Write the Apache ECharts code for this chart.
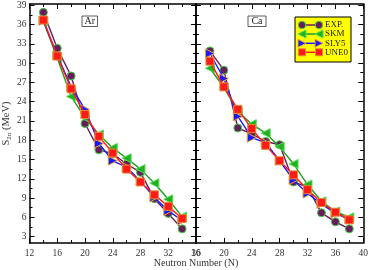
<!DOCTYPE html>
<html>
<head>
<meta charset="utf-8">
<script src="https://cdn.jsdelivr.net/npm/echarts@6/dist/echarts.min.js"></script>
<style>
html,body{margin:0;padding:0;background:#fff;}
#chart{width:371px;height:270px;}
</style>
</head>
<body>
<div id="chart"></div>
<script>
// ---- data ----
var N_Ar = [14, 16, 18, 20, 22, 24, 26, 28, 30, 32, 34];
var Ar_EXP  = [37.9, 32.3, 28.0, 20.6, 16.5, 15.9, 14.3, 13.0, 8.9, 6.6, 4.2];
var Ar_SKM  = [36.5, 30.8, 24.8, 21.5, 18.9, 16.8, 15.2, 13.5, 11.3, 8.8, 6.1];
var Ar_SLY5 = [36.6, 31.2, 26.3, 22.8, 17.5, 14.8, 13.8, 11.6, 9.1, 7.0, 5.5];
var Ar_UNE0 = [36.7, 31.1, 26.0, 22.0, 18.6, 16.0, 13.5, 11.5, 9.5, 7.7, 5.8];

var N_Ca = [18, 20, 22, 24, 26, 28, 30, 32, 34, 36, 38];
var Ca_EXP  = [31.9, 28.9, 19.9, 19.0, 17.8, 17.3, 11.5, 10.7, 6.7, 5.3, 4.2];
var Ca_SKM  = [29.2, 26.2, 22.5, 20.5, 19.1, 17.0, 14.3, 11.1, 8.5, 6.9, 6.0];
var Ca_SLY5 = [31.5, 27.6, 21.7, 18.4, 17.6, 14.8, 11.8, 9.7, 8.1, 6.6, 5.7];
var Ca_UNE0 = [30.3, 26.3, 22.8, 19.8, 17.2, 14.8, 12.6, 10.3, 8.3, 6.8, 5.6];

var seriesNames = ['EXP.', 'SKM', 'SLY5', 'UNE0'];
var yMajorTicks = [3, 6, 9, 12, 15, 18, 21, 24, 27, 30, 33, 36, 39];
var yMinorTicks = [4.5, 7.5, 10.5, 13.5, 16.5, 19.5, 22.5, 25.5, 28.5, 31.5, 34.5, 37.5];
var panelLabels = ['Ar', 'Ca'];
var xTitle = 'Neutron Number (N)';

// ---- styles ----
var FONT = 'Liberation Serif';
var styles = [
  {symbol: 'circle', size: 8, line: '#6a1b5e', fill: '#6a1b5e', border: '#3fd13f'},
  {symbol: 'path://M0,5 L10,0 L10,10 Z', size: 9, line: '#1e9e1e', fill: '#22b022', border: '#55dd55'},
  {symbol: 'path://M10,5 L0,0 L0,10 Z', size: 9, line: '#1a1aff', fill: '#1a1aff', border: '#f0a030'},
  {symbol: 'rect', size: 8, line: '#ff1a1a', fill: '#ff1a1a', border: '#e08a30'}
];

var grids = [
  {left: 27, top: 4, width: 169, height: 239},
  {left: 196, top: 4, width: 168, height: 239}
];
var xRanges = [[12, 36], [16, 40]];
var YMIN = 2, YMAX = 39.2;

var xAxes = [], yAxes = [], series = [];
var axisLineStyle = {color: '#000', width: 1.5};
grids.forEach(function (g, gi) {
  ['bottom', 'top'].forEach(function (pos) {
    xAxes.push({
      type: 'value', gridIndex: gi, position: pos,
      min: xRanges[gi][0], max: xRanges[gi][1], interval: 4,
      axisLine: {show: true, onZero: false, lineStyle: axisLineStyle},
      axisTick: {show: true, inside: true, length: 5, lineStyle: {color: '#000', width: 1}},
      minorTick: {show: true, splitNumber: 2, length: 3, lineStyle: {color: '#000', width: 1}},
      splitLine: {show: false},
      axisLabel: {show: pos === 'bottom', fontFamily: FONT, fontSize: 9.5, color: '#333', margin: 5}
    });
  });
  ['left', 'right'].forEach(function (pos) {
    yAxes.push({
      type: 'value', gridIndex: gi, position: pos,
      min: YMIN, max: YMAX,
      axisLine: {show: true, onZero: false, lineStyle: axisLineStyle},
      axisTick: {show: true, inside: true, length: 5, customValues: yMajorTicks, lineStyle: {color: '#000', width: 1}},
      splitLine: {show: false},
      axisLabel: {show: gi === 0 && pos === 'left', customValues: yMajorTicks, fontFamily: FONT, fontSize: 9.5, color: '#333', margin: 3},
      name: (gi === 0 && pos === 'left') ? '{s|S}{sub|2n}{s| (MeV)}' : '',
      nameLocation: 'middle', nameRotate: 90, nameGap: 17,
      nameTextStyle: {
        fontFamily: FONT, color: '#333',
        rich: {
          s: {fontFamily: FONT, fontSize: 10.5, color: '#333'},
          sub: {fontFamily: FONT, fontSize: 7, color: '#333', padding: [5, 0, 0, 0]}
        }
      }
    });
    yAxes.push({
      type: 'value', gridIndex: gi, position: pos,
      min: YMIN, max: YMAX,
      axisLine: {show: false},
      axisTick: {show: true, inside: true, length: 3, customValues: yMinorTicks, lineStyle: {color: '#000', width: 1}},
      splitLine: {show: false},
      axisLabel: {show: false}
    });
  });
});

function addSeries(gi, xs, arrays) {
  arrays.forEach(function (vals, si) {
    var st = styles[si];
    series.push({
      name: seriesNames[si], type: 'line',
      xAxisIndex: gi * 2, yAxisIndex: gi * 4,
      data: xs.map(function (x, i) { return [x, vals[i]]; }),
      symbol: st.symbol, symbolSize: st.size, showAllSymbol: true,
      lineStyle: {color: st.line, width: 1.4},
      itemStyle: {color: st.fill, borderColor: st.border, borderWidth: 1},
      z: 2 + si, animation: false, silent: true
    });
  });
}
addSeries(0, N_Ar, [Ar_EXP, Ar_SKM, Ar_SLY5, Ar_UNE0]);
addSeries(1, N_Ca, [Ca_EXP, Ca_SKM, Ca_SLY5, Ca_UNE0]);

// ---- legend and annotations (graphic) ----
var graphic = [];
var lx0 = 295, ly0 = 17, lw = 56, lh = 45;
graphic.push({type: 'rect', shape: {x: lx0, y: ly0, width: lw, height: lh},
  style: {fill: '#ffff00', stroke: '#000', lineWidth: 1}, z: 100});
var rowsY = [25, 34, 43.3, 52.3];
function marker(si, cx, cy) {
  var st = styles[si];
  var style = {fill: st.fill, stroke: st.border, lineWidth: 1};
  if (si === 0) return {type: 'circle', shape: {cx: cx, cy: cy, r: 3.7}, style: style, z: 102};
  if (si === 1) return {type: 'polygon', shape: {points: [[cx - 4, cy], [cx + 4, cy - 4], [cx + 4, cy + 4]]}, style: style, z: 102};
  if (si === 2) return {type: 'polygon', shape: {points: [[cx + 4, cy], [cx - 4, cy - 4], [cx - 4, cy + 4]]}, style: style, z: 102};
  return {type: 'rect', shape: {x: cx - 3.5, y: cy - 3.5, width: 7, height: 7}, style: style, z: 102};
}
seriesNames.forEach(function (nm, si) {
  var y = rowsY[si];
  graphic.push({type: 'line', shape: {x1: 302, y1: y, x2: 319, y2: y},
    style: {stroke: styles[si].line, lineWidth: 1.5}, z: 101});
  graphic.push(marker(si, 302, y));
  graphic.push(marker(si, 319, y));
  graphic.push({type: 'text', x: 325, y: y,
    style: {text: nm, fontFamily: FONT, fontSize: 9, fill: '#222', verticalAlign: 'middle', align: 'left'}, z: 102});
});
// panel labels
var boxes = [{x: 82, y: 16, w: 15.5, h: 10.5}, {x: 248, y: 16, w: 18, h: 10.5}];
panelLabels.forEach(function (t, i) {
  var b = boxes[i];
  graphic.push({type: 'rect', shape: {x: b.x, y: b.y, width: b.w, height: b.h},
    style: {fill: '#fff', stroke: '#333', lineWidth: 0.8}, z: 100});
  graphic.push({type: 'text', x: b.x + b.w / 2, y: b.y + b.h / 2 + 0.5,
    style: {text: t, fontFamily: FONT, fontSize: 10, fill: '#222', align: 'center', verticalAlign: 'middle'}, z: 101});
});
graphic.push({type: 'text', x: 196, y: 263,
  style: {text: xTitle, fontFamily: FONT, fontSize: 10, fill: '#333', align: 'center', verticalAlign: 'middle'}, z: 100});

var chart = echarts.init(document.getElementById('chart'), null, {renderer: 'canvas'});
chart.setOption({
  animation: false,
  backgroundColor: '#fff',
  grid: grids,
  xAxis: xAxes,
  yAxis: yAxes,
  series: series,
  graphic: graphic
});
</script>
</body>
</html>
